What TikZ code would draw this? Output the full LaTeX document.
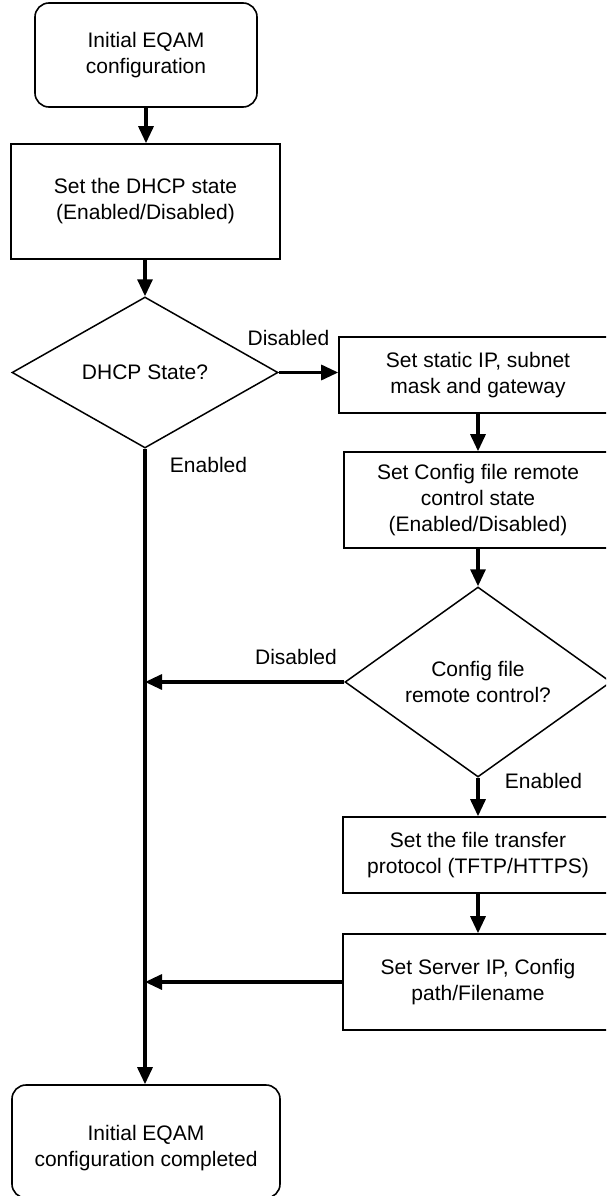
\documentclass[tikz,border=0pt]{standalone}
\usepackage{fontspec}
\setmainfont{Liberation Sans}
\usetikzlibrary{shapes.geometric,arrows.meta,calc}
\begin{document}
\begin{tikzpicture}[x=1pt,y=-1pt,
  every node/.style={font=\fontsize{21}{26}\selectfont, align=center, inner sep=0pt},
  term/.style={draw, line width=1.6pt, rounded corners=14pt, rectangle},
  proc/.style={draw, line width=1.6pt, rectangle},
  decide/.style={draw, line width=1.5pt, diamond},
  flow/.style={line width=3.2pt, -{Triangle[length=17pt,width=15pt]}}
]
\path[use as bounding box, clip] (0,0) rectangle (606,1196);
\fill[white] (0,0) rectangle (606,1196);

\node[term, minimum width=222, minimum height=104] (start) at (146,55) {Initial EQAM\\configuration};
\node[proc, minimum width=269, minimum height=115] (r1) at (145.5,201.5) {Set the DHCP state\\(Enabled/Disabled)};
\node[decide, minimum width=266, minimum height=151] (d1) at (145,372.5) {DHCP State?};
\node[proc, minimum width=278, minimum height=76] (r2) at (478,375) {Set static IP, subnet\\mask and gateway};
\node[proc, minimum width=268, minimum height=96] (r3) at (478,500) {Set Config file remote\\control state\\(Enabled/Disabled)};
\node[decide, minimum width=266, minimum height=190] (d2) at (478,682) {Config file\\remote control?};
\node[proc, minimum width=270, minimum height=76] (r4) at (478,855) {Set the file transfer\\protocol (TFTP/HTTPS)};
\node[proc, minimum width=270, minimum height=96] (r5) at (478,982) {Set Server IP, Config\\path/Filename};
\node[term, minimum width=268, minimum height=113] (fin) at (146,1141.5) {};
\node (fintxt) at (146,1148) {Initial EQAM\\configuration completed};

\node (lab1) at (288.5,338) {Disabled};
\node (lab2) at (208.5,465) {Enabled};
\node (lab3) at (296,657) {Disabled};
\node (lab4) at (543.5,781) {Enabled};

\draw[flow] (start.south) -- (start.south |- r1.north);
\draw[flow] (d1.north |- r1.south) -- (d1.north);
\draw[flow] (d1.east) -- (d1.east -| r2.west);
\draw[flow] (r2.south) -- (r3.north);
\draw[flow] (r3.south) -- (d2.north);
\draw[flow] (d2.south) -- (r4.north);
\draw[flow] (r4.south) -- (r5.north);
\draw[flow] (d1.south) -- (d1.south |- fin.north);
\draw[flow] (d2.west) -- (d2.west -| d1.south);
\draw[flow] (r5.west) -- (r5.west -| d1.south);
\end{tikzpicture}
\end{document}
